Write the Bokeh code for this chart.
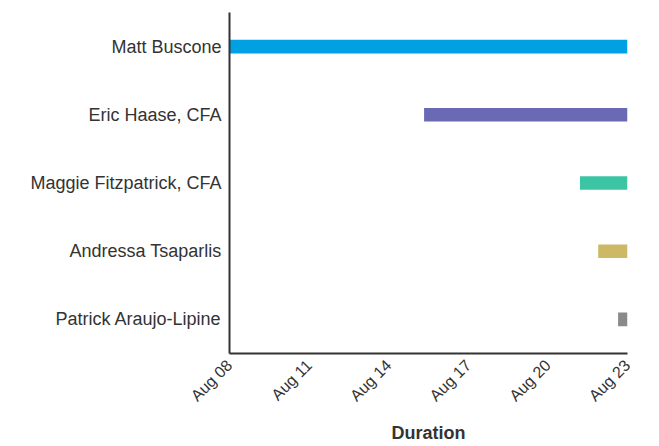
from datetime import datetime
from bokeh.plotting import figure
from bokeh.models import ColumnDataSource, FactorRange, FixedTicker, DatetimeTickFormatter, Range1d
from bokeh.embed import file_html
from bokeh.resources import INLINE
import math

names = ["Matt Buscone", "Eric Haase, CFA", "Maggie Fitzpatrick, CFA",
         "Andressa Tsaparlis", "Patrick Araujo-Lipine"]
starts = [datetime(2023, 8, 8, 0, 0), datetime(2023, 8, 15, 8, 0), datetime(2023, 8, 21, 5, 0),
          datetime(2023, 8, 21, 21, 30), datetime(2023, 8, 22, 15, 30)]
ends = [datetime(2023, 8, 23, 0, 0)] * 5
colors = ["#00A0E3", "#6A6AB4", "#3CC5A4", "#CDB866", "#8A8A8E"]
tick_dates = [datetime(2023, 8, d) for d in (8, 11, 14, 17, 20, 23)]
x_start = datetime(2023, 8, 8)
x_end = datetime(2023, 8, 23)

source = ColumnDataSource(dict(name=names, start=starts, end=ends, color=colors))

p = figure(width=643, height=446, output_backend="svg", toolbar_location=None,
           x_axis_type="datetime",
           x_range=Range1d(x_start, x_end),
           y_range=FactorRange(factors=list(reversed(names))),
           min_border_left=229, min_border_right=16, min_border_top=12, min_border_bottom=60)

p.hbar(y="name", left="start", right="end", height=0.2, color="color", source=source,
       line_color=None)

epoch = datetime(1970, 1, 1)
p.xaxis.ticker = FixedTicker(ticks=[(d - epoch).total_seconds() * 1000 for d in tick_dates])
p.xaxis.formatter = DatetimeTickFormatter(days="%b %d", months="%b %d", hours="%b %d")
p.xaxis.major_label_orientation = math.pi / 4
p.xaxis.axis_label = "Duration"
p.xaxis.axis_label_text_font = "Liberation Sans"
p.xaxis.axis_label_text_font_style = "bold"
p.xaxis.axis_label_text_font_size = "18px"
p.xaxis.axis_label_text_color = "#333333"
p.xaxis.axis_label_standoff = 10

for ax in (p.xaxis, p.yaxis):
    ax.major_tick_line_color = None
    ax.minor_tick_line_color = None
    ax.major_tick_out = 0
    ax.major_tick_in = 0
    ax.axis_line_color = "#333333"
    ax.axis_line_width = 2
    ax.major_label_text_font = "Liberation Sans"
    ax.major_label_text_color = "#333333"

p.xaxis.major_label_standoff = 9
p.yaxis.major_label_standoff = 8
p.xaxis.major_label_text_font_size = "16px"
p.yaxis.major_label_text_font_size = "18px"

p.xgrid.grid_line_color = None
p.ygrid.grid_line_color = None
p.outline_line_color = None

open("out.html", "w").write(file_html(p, INLINE))
